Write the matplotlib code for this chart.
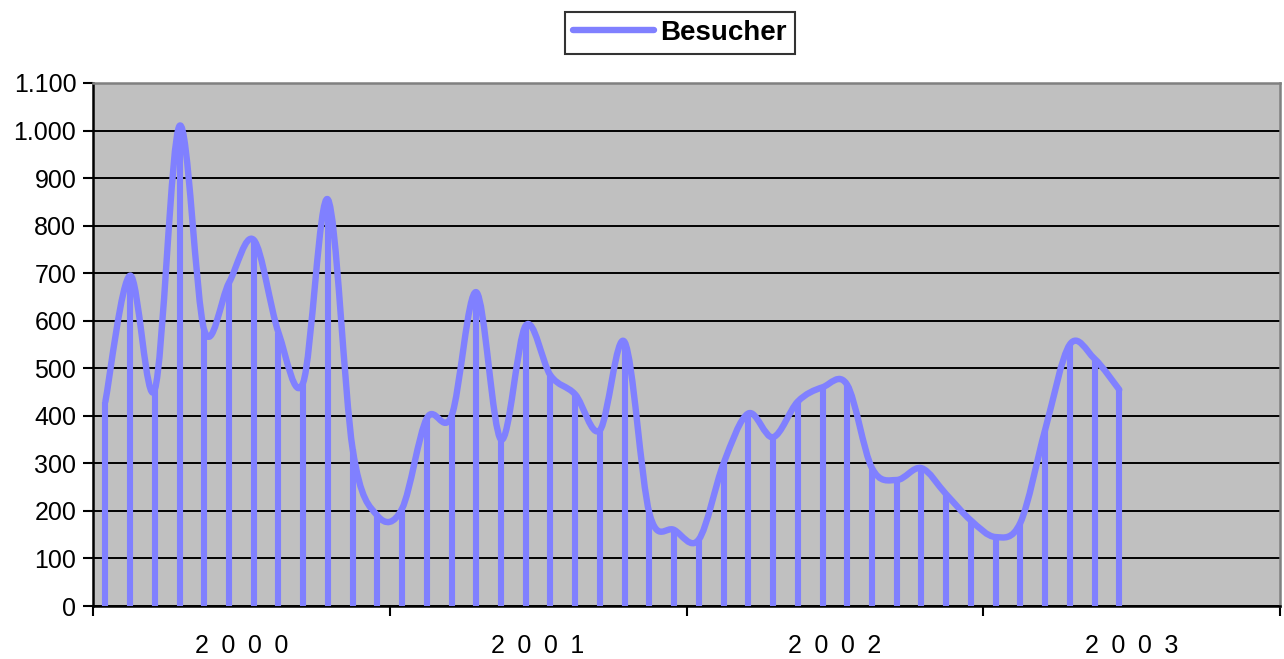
import numpy as np
import matplotlib
matplotlib.use("Agg")
import matplotlib.pyplot as plt
from matplotlib.path import Path
from matplotlib.patches import PathPatch
from matplotlib.lines import Line2D
from matplotlib.ticker import FixedLocator, FuncFormatter

plt.rcParams["font.family"] = ["Liberation Sans", "DejaVu Sans"]

# monthly visitors, Jan 2000 - Jun 2003
years = ["2\u20020\u20020\u20020", "2\u20020\u20020\u20021", "2\u20020\u20020\u20022", "2\u20020\u20020\u20023"]
besucher_2000 = [430, 695, 455, 1010, 580, 680, 770, 575, 470, 855, 330, 190]
besucher_2001 = [205, 395, 400, 660, 350, 590, 485, 445, 370, 555, 195, 160]
besucher_2002 = [140, 300, 405, 355, 430, 460, 465, 290, 265, 290, 235, 180]
besucher_2003 = [145, 175, 370, 550, 520, 455]

besucher = besucher_2000 + besucher_2001 + besucher_2002 + besucher_2003
color = "#8080FF"

fig = plt.figure(figsize=(12.84, 6.59), dpi=100)
ax = fig.add_axes([93 / 1284, 53 / 659, (1280 - 93) / 1284, (606 - 83) / 659])
ax.set_facecolor("#C0C0C0")

x = np.arange(len(besucher)) + 0.5
y = np.array(besucher, dtype=float)

# drop lines
ax.vlines(x, 0, y, color=color, lw=4.4, zorder=3)

# smoothed line (bezier like excel)
verts = [(x[0], y[0])]
codes = [Path.MOVETO]
n = len(x)
for i in range(n - 1):
    p0 = np.array([x[max(i - 1, 0)], y[max(i - 1, 0)]])
    p1 = np.array([x[i], y[i]])
    p2 = np.array([x[i + 1], y[i + 1]])
    p3 = np.array([x[min(i + 2, n - 1)], y[min(i + 2, n - 1)]])
    c1 = p1 + (p2 - p0) / 6
    c2 = p2 - (p3 - p1) / 6
    verts += [tuple(c1), tuple(c2), tuple(p2)]
    codes += [Path.CURVE4] * 3
ax.add_patch(PathPatch(Path(verts, codes), fill=False, edgecolor=color,
                       lw=4.6, capstyle="round", joinstyle="round", zorder=4))

ax.set_xlim(0, 48)
ax.set_ylim(0, 1100)

ax.yaxis.set_major_locator(FixedLocator(np.arange(0, 1101, 100)))
ax.yaxis.set_major_formatter(FuncFormatter(lambda v, p: f"{int(v):,}".replace(",", ".")))
ax.grid(axis="y", color="black", lw=1.4, zorder=1)
ax.set_axisbelow(True)

ax.set_xticks([0, 12, 24, 36, 48])
ax.set_xticklabels([])
ax.set_xticks([6, 18, 30, 42], minor=True)
ax.set_xticklabels(years, minor=True)
ax.tick_params(axis="x", which="minor", length=0, pad=20, labelsize=18)
ax.tick_params(axis="x", which="major", length=7, width=1.5, direction="out")
ax.tick_params(axis="y", length=7, width=1.5, direction="out", labelsize=18, pad=5)

for s in ["left", "bottom"]:
    ax.spines[s].set_color("black")
    ax.spines[s].set_linewidth(1.8)
for s in ["top", "right"]:
    ax.spines[s].set_color("#808080")
    ax.spines[s].set_linewidth(1.8)

handle = Line2D([], [], color=color, lw=4.6, solid_capstyle="round")
leg = fig.legend([handle], ["Besucher"], loc="center", bbox_to_anchor=(680 / 1284, 1 - 33 / 659),
                 frameon=True, fancybox=False, edgecolor="black", handlelength=2.9,
                 prop={"weight": "bold", "size": 20}, borderpad=0.3, handletextpad=0.25,
                 borderaxespad=0)
leg.get_frame().set_linewidth(1.5)

fig.savefig("out.png", dpi=100)
